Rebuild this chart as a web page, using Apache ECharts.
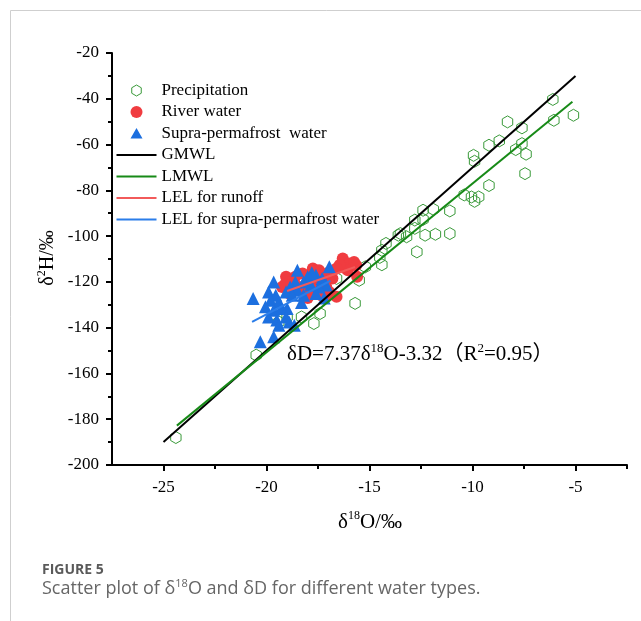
<!DOCTYPE html>
<html>
<head>
<meta charset="utf-8">
<script src="https://cdn.jsdelivr.net/npm/echarts@6/dist/echarts.min.js"></script>
<style>
  html, body { margin: 0; padding: 0; background: #fff; }
  #chart { width: 641px; height: 621px; }
</style>
</head>
<body>
<div id="chart"></div>
<script>
// 降水、河水、冻结层上水 数据 (δ18O, δD)
var precipitation = [
    [-24.4, -188], [-20.5, -152], [-19.4, -137.5], [-19.0, -135.3], [-18.3, -135.3],
    [-17.7, -138.2], [-17.4, -133.8], [-16.6, -118.5], [-15.7, -129.4], [-15.5, -119.3],
    [-15.2, -113.4], [-14.4, -112.5], [-14.5, -109.3], [-14.4, -106.2], [-14.2, -103.2],
    [-13.6, -99.6], [-13.2, -100.3], [-13.5, -98.9], [-12.8, -96.6], [-12.7, -106.9],
    [-12.8, -93], [-12.4, -92.7], [-12.4, -88.7], [-11.9, -88.3], [-11.1, -89],
    [-12.3, -99.6], [-11.8, -99.2], [-11.1, -98.9], [-10.4, -82], [-10.05, -82.9],
    [-9.7, -82.9], [-9.9, -84.8], [-9.2, -77.9], [-9.95, -64.7], [-9.9, -67.3],
    [-9.2, -60.3], [-8.7, -58.4], [-7.9, -62.2], [-7.6, -59.6], [-7.4, -64.2],
    [-7.45, -72.7], [-8.3, -50.1], [-7.6, -52.7], [-6.1, -40.3], [-6.05, -49.4],
    [-5.1, -47.2]
];
var riverWater = [
    [-16.3, -109.8], [-16.0, -112], [-15.75, -111.3], [-16.15, -114.2], [-16.05, -114.9],
    [-16.45, -112.6], [-15.65, -112.7], [-15.6, -117.8], [-16.6, -114.2], [-16.8, -118.5],
    [-16.95, -124.4], [-17.05, -125.8], [-16.6, -126.5], [-17.75, -114.2], [-17.45, -114.9],
    [-17.95, -117.1], [-17.3, -118.5], [-19.05, -117.8], [-18.9, -120], [-19.25, -122.2],
    [-18.25, -116.3], [-18.6, -117.8], [-18.9, -125.1], [-18.25, -124.4], [-17.6, -124.4],
    [-17.1, -122.2], [-17.35, -125.8], [-17.45, -120], [-17.75, -121.4], [-18.1, -122.9],
    [-18.4, -122.2], [-18.75, -122.2], [-19.1, -121], [-18.0, -127], [-17.0, -116]
];
var supraWater = [
    [-18.5, -114.9], [-16.95, -113.4], [-19.65, -120], [-17.6, -117.1], [-18.0, -117.8],
    [-18.2, -120], [-17.85, -121.4], [-17.3, -118.5], [-17.1, -121.4], [-17.45, -122.2],
    [-18.6, -120], [-18.85, -122.2], [-18.5, -123.6], [-19.05, -124.4], [-18.2, -125.8],
    [-17.6, -125.1], [-18.75, -125.8], [-19.9, -124.4], [-19.55, -125.8], [-20.65, -127.3],
    [-19.8, -128], [-19.4, -128.7], [-20.05, -130.9], [-19.65, -132.4], [-19.3, -131.6],
    [-19.0, -131.6], [-19.9, -135.3], [-19.5, -136.7], [-19.05, -135.3], [-18.9, -137.5],
    [-19.4, -138.9], [-18.65, -138.9], [-20.3, -146.2], [-19.65, -144], [-17.8, -116],
    [-18.3, -129], [-17.2, -127]
];
// 拟合线端点
var gmwl = [[-25, -190], [-5, -30]];
var lmwl = [[-24.35, -182.8], [-5.15, -41.3]];
var lelRunoff = [[-19.0, -124], [-15.7, -113.5]];
var lelSupra = [[-20.7, -137.5], [-16.9, -119.5]];

// 坐标轴刻度
var xMajorTicks = [-25, -20, -15, -10, -5];
var xMinorTicks = [-22.5, -17.5, -12.5, -7.5, -2.5];

var serif = "'Liberation Serif', 'Noto Sans CJK SC', serif";
var hexagon = 'path://M0,-1 L0.866,-0.5 L0.866,0.5 L0,1 L-0.866,0.5 L-0.866,-0.5 Z';
// 图例图标: 两个零长度子路径只用来撑开 40x12 的包围盒
var box = 'M0,0 L0,0 Z M40,12 L40,12 Z ';
var legendLine = 'path://' + box + 'M0,5 L40,5 L40,7 L0,7 Z';
var legendHex = 'path://' + box + 'M20,0.5 L24.76,3.25 L24.76,8.75 L20,11.5 L15.24,8.75 L15.24,3.25 Z';
var legendTri = 'path://' + box + 'M14,11 L20,0.5 L26,11 Z';
var supStyle = { fontSize: 12, lineHeight: 12, verticalAlign: 'top', fontFamily: serif, fill: '#000' };
var tickRich = { a: { fontFamily: 'Liberation Serif', fontSize: 17, color: '#000' } };

var myChart = echarts.init(document.getElementById('chart'));

var option = {
    backgroundColor: '#fff',
    animation: false,
    textStyle: { fontFamily: 'Liberation Serif' },
    grid: { left: 112, right: 14, top: 53, bottom: 156 },
    legend: {
        left: 111,
        top: 77,
        orient: 'vertical',
        itemWidth: 40,
        itemHeight: 12,
        itemGap: 4.5,
        textStyle: { fontFamily: serif, fontSize: 17, color: '#000', lineHeight: 17 },
        data: [
            { name: 'Precipitation', icon: legendHex,
              itemStyle: { color: 'rgba(0,0,0,0)', borderColor: '#3a9a3a', borderWidth: 1 } },
            { name: 'River water' },
            { name: 'Supra-permafrost  water', icon: legendTri },
            { name: 'GMWL', icon: legendLine },
            { name: 'LMWL', icon: legendLine },
            { name: 'LEL for runoff', icon: legendLine },
            { name: 'LEL for supra-permafrost water', icon: legendLine }
        ]
    },
    xAxis: [{
        type: 'value',
        min: -27.5,
        max: -2.5,
        splitLine: { show: false },
        axisLine: { onZero: false, lineStyle: { color: '#000', width: 2 } },
        axisTick: { customValues: xMajorTicks, length: 6, lineStyle: { color: '#000', width: 2 } },
        axisLabel: {
            customValues: xMajorTicks, color: '#000', fontFamily: 'Liberation Serif', fontSize: 17, margin: 14,
            formatter: '{a|{value}}', rich: tickRich
        }
    }, {
        type: 'value',
        min: -27.5,
        max: -2.5,
        position: 'bottom',
        splitLine: { show: false },
        axisLine: { show: false, onZero: false },
        axisTick: { customValues: xMinorTicks, length: 4, lineStyle: { color: '#000', width: 2 } },
        axisLabel: { show: false }
    }],
    yAxis: {
        type: 'value',
        min: -200,
        max: -20,
        interval: 20,
        splitLine: { show: false },
        axisLine: { show: true, onZero: false, lineStyle: { color: '#000', width: 2 } },
        axisTick: { show: true, length: 6, lineStyle: { color: '#000', width: 2 } },
        minorTick: { show: true, splitNumber: 2, length: 4, lineStyle: { color: '#000', width: 2 } },
        axisLabel: {
            color: '#000', fontFamily: 'Liberation Serif', fontSize: 17, margin: 13,
            formatter: '{a|{value}}', rich: tickRich
        }
    },
    series: [{
        name: 'Precipitation',
        type: 'scatter',
        data: precipitation,
        symbol: hexagon,
        symbolSize: 12,
        symbolKeepAspect: true,
        itemStyle: { color: 'rgba(0,0,0,0)', borderColor: '#3a9a3a', borderWidth: 1, opacity: 1 }
    }, {
        name: 'River water',
        type: 'scatter',
        data: riverWater,
        symbol: 'circle',
        symbolSize: 12,
        itemStyle: { color: '#f03c40', opacity: 1 }
    }, {
        name: 'Supra-permafrost  water',
        type: 'scatter',
        data: supraWater,
        symbol: 'triangle',
        symbolSize: 13,
        symbolKeepAspect: true,
        itemStyle: { color: '#1c6fdf', opacity: 1 }
    }, {
        name: 'GMWL',
        type: 'line',
        data: gmwl,
        symbol: 'none',
        lineStyle: { color: '#000', width: 2 },
        itemStyle: { color: '#000' }
    }, {
        name: 'LMWL',
        type: 'line',
        data: lmwl,
        symbol: 'none',
        lineStyle: { color: '#178a17', width: 2 },
        itemStyle: { color: '#178a17' }
    }, {
        name: 'LEL for runoff',
        type: 'line',
        data: lelRunoff,
        symbol: 'none',
        lineStyle: { color: '#f25a5a', width: 2 },
        itemStyle: { color: '#f25a5a' }
    }, {
        name: 'LEL for supra-permafrost water',
        type: 'line',
        data: lelSupra,
        symbol: 'none',
        lineStyle: { color: '#2b7de9', width: 2 },
        itemStyle: { color: '#2b7de9' }
    }],
    graphic: [{
        type: 'rect',
        shape: { x: 10.5, y: 10.5, width: 800, height: 800 },
        style: { fill: 'none', stroke: '#cfcfcf', lineWidth: 1 },
        silent: true
    }, {
        type: 'text',
        left: 287,
        top: 342,
        style: {
            text: '{t|δD=7.37δ}{s|18}{t|O-3.32（R}{s|2}{t|=0.95）}',
            rich: {
                t: { fontSize: 21, lineHeight: 25, fontFamily: serif, fill: '#000' },
                s: { fontSize: 13, lineHeight: 13, verticalAlign: 'top', fontFamily: serif, fill: '#000' }
            }
        }
    }, {
        type: 'text',
        x: 370,
        y: 522,
        style: {
            text: '{t|δ}{s|18}{t|O/‰}',
            align: 'center',
            verticalAlign: 'middle',
            rich: {
                t: { fontSize: 21, lineHeight: 25, fontFamily: serif, fill: '#000' },
                s: supStyle
            }
        }
    }, {
        type: 'text',
        x: 48,
        y: 258,
        rotation: Math.PI / 2,
        style: {
            text: '{t|δ}{s|2}{t|H/‰}',
            align: 'center',
            verticalAlign: 'middle',
            rich: {
                t: { fontSize: 20, lineHeight: 24, fontFamily: serif, fill: '#000' },
                s: supStyle
            }
        }
    }, {
        type: 'text',
        left: 42,
        top: 563,
        style: {
            text: 'FIGURE 5',
            fontFamily: "'Open Sans', sans-serif",
            fontWeight: 'bold',
            fontSize: 14,
            fill: '#5a5a5a'
        }
    }, {
        type: 'text',
        left: 42,
        top: 578,
        style: {
            text: '{t|Scatter plot of δ}{s|18}{t|O and δD for different water types.}',
            rich: {
                t: { fontSize: 18, lineHeight: 22, fontFamily: "'Open Sans', sans-serif", fill: '#666' },
                s: { fontSize: 11, lineHeight: 12, verticalAlign: 'top', fontFamily: "'Open Sans', sans-serif", fill: '#666' }
            }
        }
    }]
};

myChart.setOption(option);
window.addEventListener('resize', function () {
    myChart.resize();
});
</script>
</body>
</html>
